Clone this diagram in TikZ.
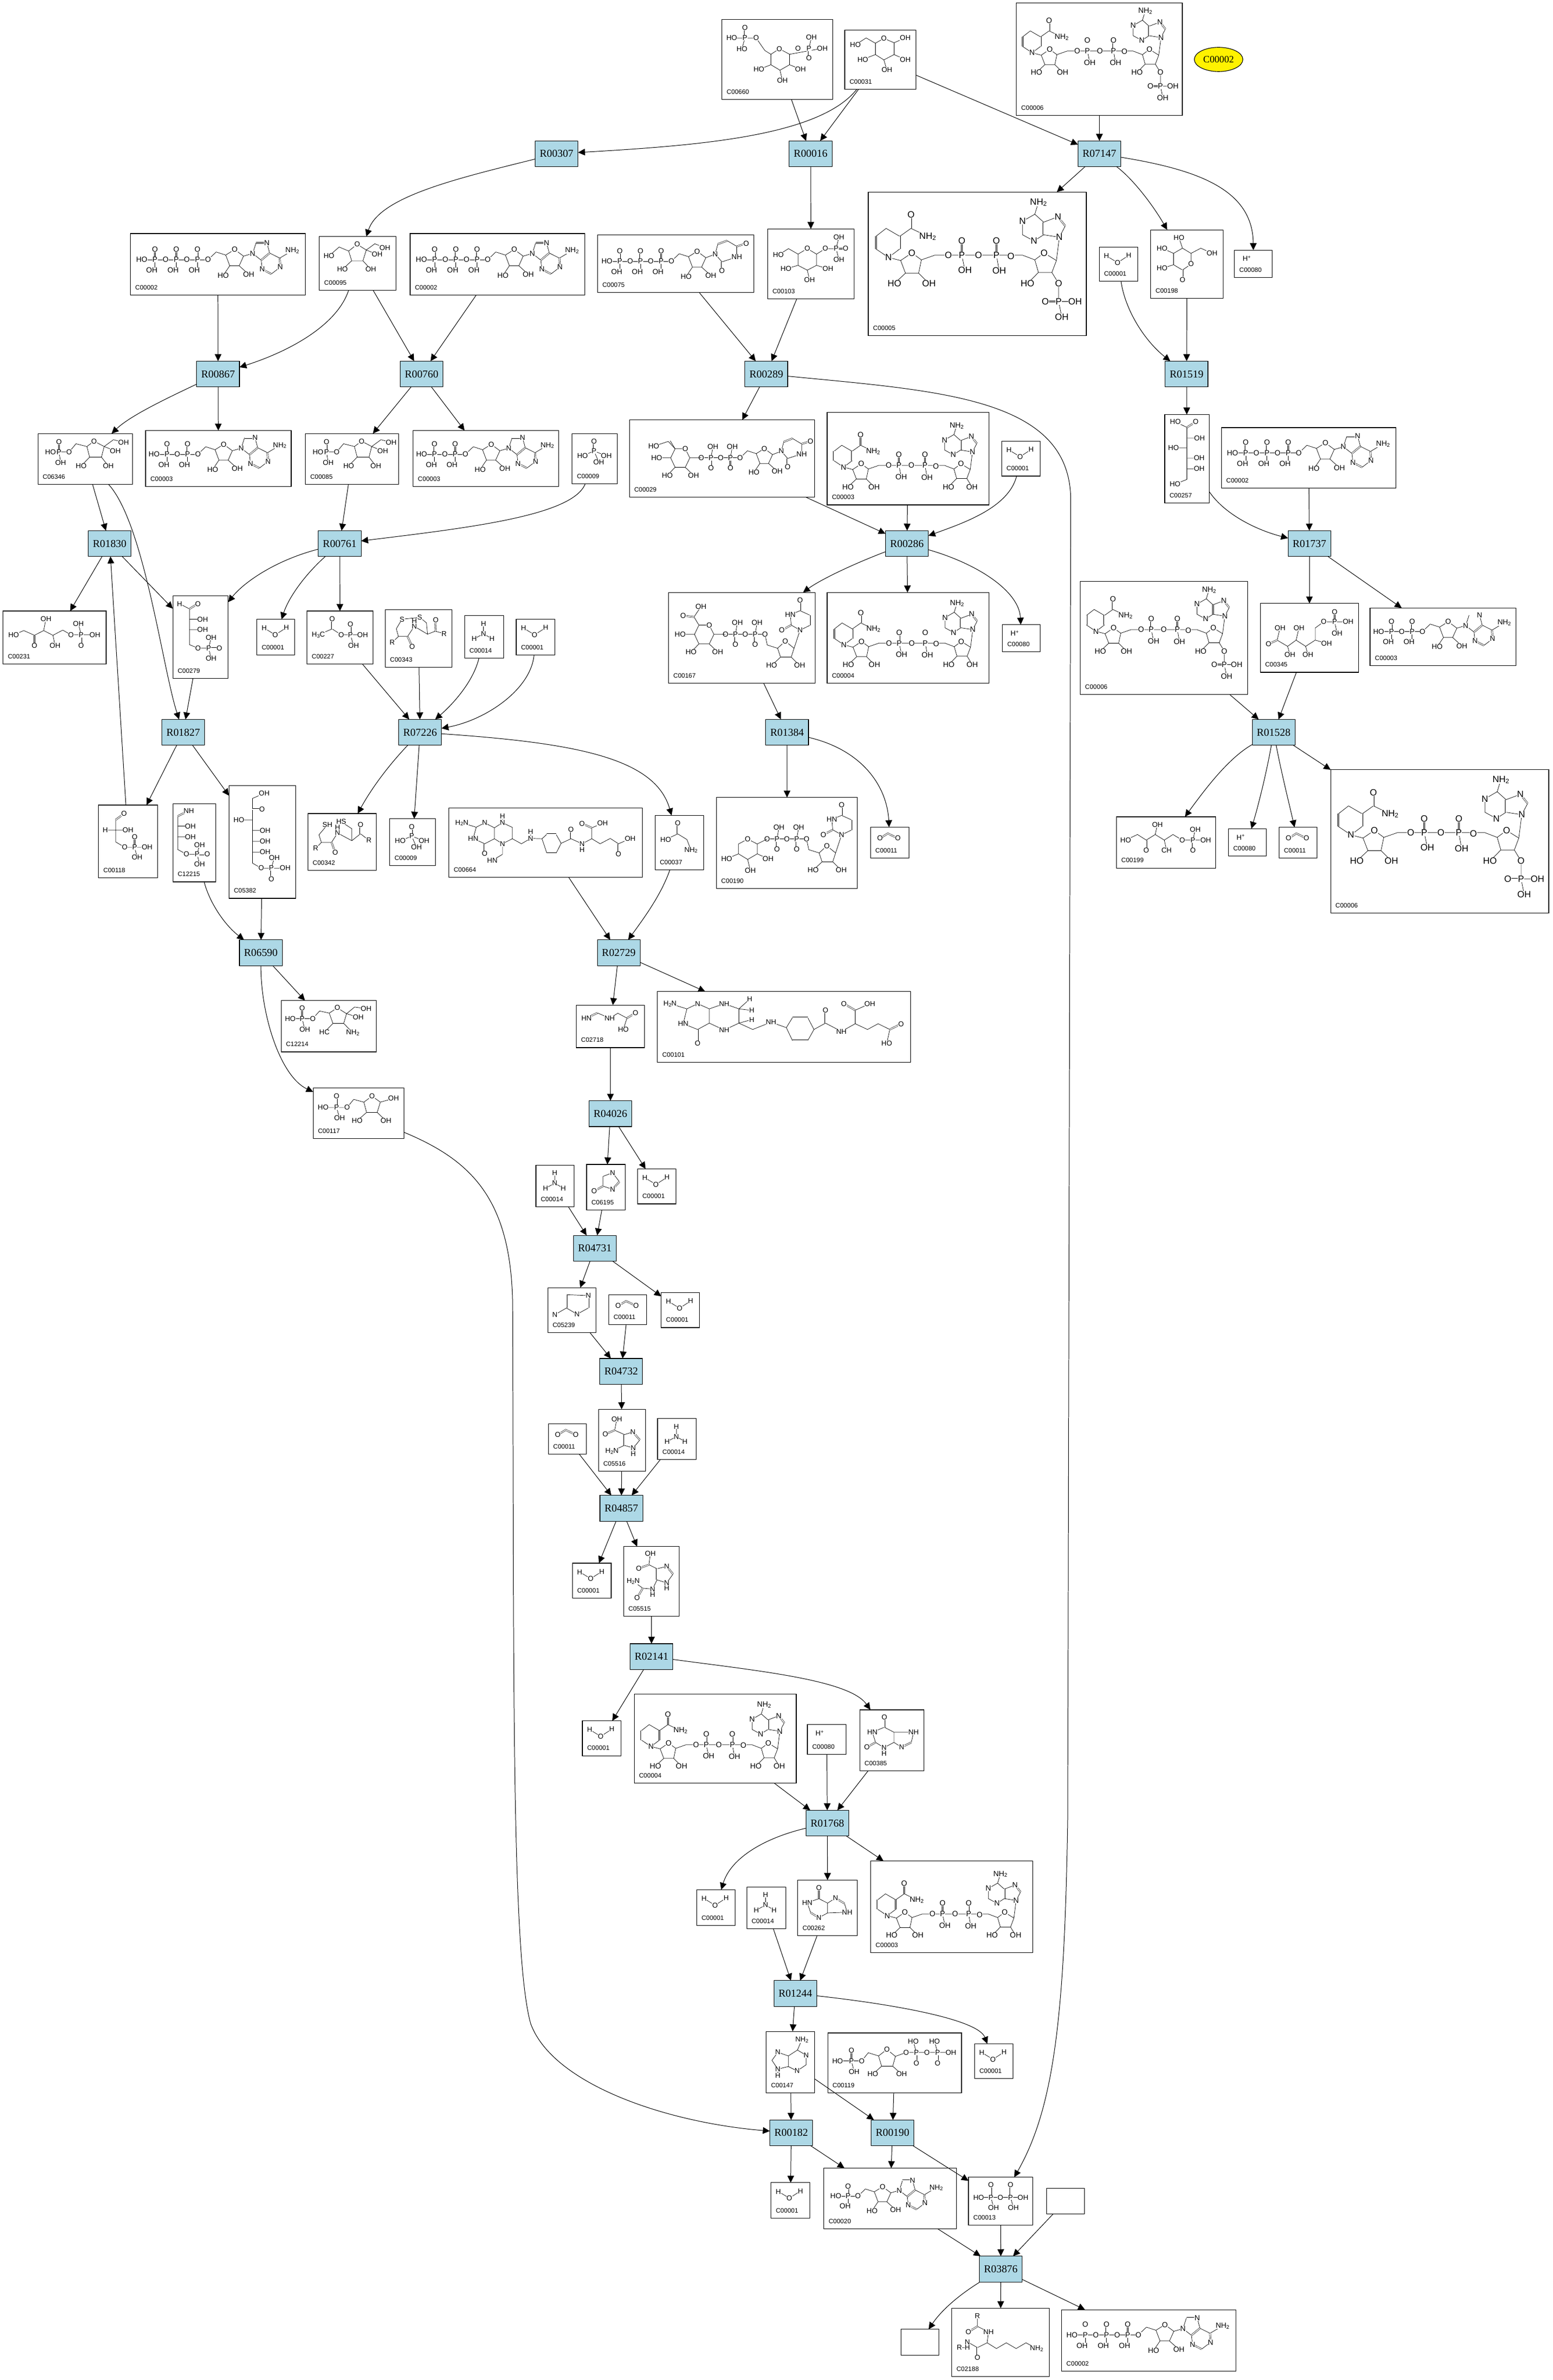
\documentclass[tikz,border=0pt]{standalone}
\usepackage{fontspec}
\usepackage{graphicx}
\setmainfont{Liberation Sans}
\newfontfamily\serif{Liberation Serif}
\usetikzlibrary{arrows.meta,shapes.geometric}
\newcount\atomc
\def\ms{4.8}
\def\A(#1,#2)#3{\global\advance\atomc by 1 \node[atom] (m\the\atomc) at (#1,#2) {#3};}
\newcommand\Bd[1]{\draw[bd] #1;}
\newcommand\Db[1]{\draw[dbl] #1;}
\newcommand\Sb[1]{\raisebox{-.25ex}{\scalebox{.7}{#1}}}
\newcommand\Sp[1]{\raisebox{.6ex}{\scalebox{.7}{#1}}}
\newcommand\Mol[5]{\begin{scope}[shift={(#1,#2)},x=#3pt,y=-#3pt]\def\ms{#4}#5\end{scope}}
\newcommand\MolD[3]{\Mol{#1}{#2}{1}{4.7}{#3}}
\newcommand\Cpd[6]{\node[cbox,minimum width={(#4-#2)*1pt},minimum height={(#5-#3)*1pt}] (#1) at ({(#2+#4)/2},{(#3+#5)/2}) {};
 \node[clabel] (#1-l) at ({#2+3},{#5-5}) {#6};}
\newcommand\Rx[3]{\node[rbox] (#1) at (#2,#3) {#1};}
\newcommand\E[2]{\draw[ed] (#1) -- (#2);}
% ---- building blocks (origin: 5' oxygen)
\newcommand\mRib{\Bd{(0,0)--(.76,-.73)--(1.66,-.44)--(2.5,-.96)--(3.34,-.34)--(2.93,.57)--(2.04,.57)--(1.66,-.44) (2.04,.57)--(1.43,1.47) (2.93,.57)--(3.82,1.38)}
 \A(0,0){O}\A(2.5,-.96){O}\A(1.43,1.47){HO}\A(3.82,1.38){OH}}
\newcommand\mAde{\Bd{(3.34,-.34)--(4.2,-.59)--(4.52,-1.59) (5.54,-1.59)--(5.8,-.63)--(5,.04)--(4.2,-.59) (5,.04)--(5.1,.9)--(5.96,1.34)--(6.8,.7)--(6.75,-.15)--(5.8,-.63) (6.75,-.15)--(7.93,-.86)}
 \Db{(4.52,-1.59)--(5.54,-1.59)}\Db{(5.8,-.63)--(5,.04)}\Db{(5.1,.9)--(5.96,1.34)}\Db{(6.8,.7)--(6.75,-.15)}\A(4.2,-.59){N}\A(5.54,-1.59){N}\A(5.1,.9){N}\A(6.8,.7){N}\A(7.93,-.86){NH\Sb{2}}}
\newcommand\mChain[1]{\Bd{(0,0)--({-2*#1},0)}
 \foreach \i in {1,...,#1}{\pgfmathsetmacro\xp{-(2*\i-1)}\pgfmathsetmacro\xo{-2*\i}
  \Db{(\xp,0)--(\xp,-1)}\Bd{(\xp,0)--(\xp,1)}\A(\xp,0){P}\A(\xp,-1){O}\A(\xp-.3,1){OH}
  \ifnum\i<#1 \A(\xo,0){O}\else\A(\xo-.25,0){HO}\fi}}
\newcommand\mATPn[1]{\mChain{#1}\mRib\mAde}
\newcommand\mUra{\Bd{(3.34,-.34)--(4.25,-.69)--(4.9,.06)--(6.34,-.41)--(6.34,-1.44)--(5.4,-2) (4.5,-1.66)--(4.25,-.69)}\Db{(4.9,.06)--(4.9,.91)}\Db{(6.34,-1.44)--(7.25,-1.72)}\Db{(5.4,-2)--(4.5,-1.66)}
 \A(4.25,-.69){N}\A(6.34,-.41){NH}\A(4.9,.91){O}\A(7.25,-1.72){O}}
\newcommand\mUrd{\Bd{(0,0)--(.23,1.08)--(1.28,1.41)--(2.06,.69)--(2.95,1.41)--(2.66,2.31)--(1.58,2.31)--(1.28,1.41) (1.58,2.31)--(.67,3.16) (2.66,2.31)--(3.52,3.16) (2.95,1.41)--(3.56,-.43)--(2.66,-.94)--(2.57,-2)--(3.56,-2.4)--(4.53,-1.96) (4.53,-.9)--(3.56,-.43)}
 \Db{(2.66,-.94)--(1.71,-.43)}\Db{(3.56,-2.4)--(3.56,-3.45)}\Db{(4.53,-1.96)--(4.53,-.9)}
 \A(0,0){O}\A(2.06,.69){O}\A(.67,3.16){HO}\A(3.52,3.16){OH}\A(3.56,-.43){N}\A(1.71,-.43){O}\A(2.57,-2){HN}\A(3.56,-3.45){O}}
\newcommand\mUDPp{\Bd{(0,0)--(-4,0)}\foreach \xp in {-1,-3}{\Bd{(\xp,0)--(\xp+.2,-1.17)}\Db{(\xp,0)--(\xp,1.05)}\A(\xp,0){P}\A(\xp+.2,-1.17){OH}\A(\xp,1.05){O}}\A(-2,0){O}\A(-4,0){O}}
\newcommand\mHexA{\Bd{(-4,0)--(-5.18,0)--(-5.65,-.94)--(-6.7,-.94)--(-7.15,0)--(-6.7,.97)--(-5.65,.97)--(-5.18,0) (-7.15,0)--(-8.6,0) (-6.7,.97)--(-7.5,1.8) (-5.65,.97)--(-4.8,1.8) (-6.7,-.94)--(-7.2,-1.77)}\A(-5.65,-.94){O}\A(-8.6,0){HO}\A(-7.5,1.8){HO}\A(-4.8,1.8){OH}}
\newcommand\mNADc{\Bd{(0,0)--(-1.56,0)--(-2.34,.27)--(-2.89,-.13)--(-3.54,.31)--(-3.26,1.04)--(-2.5,1.04)--(-2.34,.27) (-3.26,1.04)--(-3.9,1.64) (-2.5,1.04)--(-1.9,1.64) (-3.54,.31)--(-4.24,.13)--(-4.97,-.36)--(-4.97,-1.09)--(-4.38,-1.55)--(-3.59,-1.09)--(-3.59,-.36)--(-4.24,.13) (-3.59,-1.09)--(-2.94,-1.55)--(-1.98,-1.09) (0,0)--(.18,.87) (2,0)--(2.16,.91) (0,0)--(3.51,0)--(4.22,.27)--(4.76,-.13)--(5.47,.31)--(5.21,1)--(4.43,1)--(4.22,.27) (4.43,1)--(3.8,1.64) (5.47,.31)--(5.64,-1.04)--(5.98,-1.69)--(5.56,-2.22)--(4.73,-1.91)--(4.73,-1.18)--(5.64,-1.04) (4.73,-1.18)--(4.17,-.82)--(3.51,-1.18)--(3.51,-1.96)--(4.22,-2.37)--(4.73,-1.91) (4.22,-2.37)--(4.43,-3.06)}
 \Db{(0,0)--(0,-.82)}\Db{(2,0)--(2,-.82)}\Db{(-2.94,-1.55)--(-2.94,-2.33)}\Db{(-4.97,-.36)--(-4.97,-1.09)}\Db{(-3.59,-1.09)--(-3.59,-.36)}\Db{(4.73,-1.91)--(4.73,-1.18)}\Db{(5.98,-1.69)--(5.56,-2.22)}
 \A(-.78,0){O}\A(.96,0){O}\A(2.84,.05){O}\A(0,0){P}\A(2,0){P}\A(0,-.82){O}\A(2,-.82){O}\A(.18,.87){OH}\A(2.16,.91){OH}
 \A(-2.89,-.13){O}\A(-3.9,1.64){HO}\A(-1.9,1.64){OH}\A(-4.24,.13){N}\A(-2.94,-2.33){O}\A(-1.98,-1.09){NH\Sb{2}}
 \A(4.76,-.13){O}\A(3.8,1.64){HO}\A(5.64,-1.04){N}\A(5.56,-2.22){N}\A(4.17,-.82){N}\A(3.51,-1.96){N}\A(4.43,-3.06){NH\Sb{2}}}
\newcommand\mNAD{\mNADc\Bd{(5.21,1)--(5.6,1.64)}\A(5.6,1.64){OH}}
\newcommand\mNADP{\mNADc\Bd{(5.21,1)--(5.6,1.64)--(5.6,2.68)--(6.55,2.68) (5.6,2.68)--(5.78,3.57)}\Db{(5.6,2.68)--(4.83,2.68)}\A(5.6,1.64){O}\A(5.6,2.68){P}\A(4.83,2.68){O}\A(6.55,2.68){OH}\A(5.78,3.57){OH}}
\newcommand\mWater[2]{\Mol{#1}{#2}{1}{4.7}{\Bd{(4.8,5.8)--(12.1,10.2)--(19.4,5.5)}\A(4.8,5.8){H}\A(12.1,10.2){O}\A(19.4,5.5){H}}}
\newcommand\mAmm[2]{\Mol{#1}{#2}{1}{4.7}{\Bd{(12.4,5.3)--(12.4,12)--(6.3,15.3) (12.4,12)--(18,15.3)}\A(12.4,5.3){H}\A(12.4,12){N}\A(6.3,15.3){H}\A(18,15.3){H}}}
\newcommand\mCO[2]{\Mol{#1}{#2}{1}{4.7}{\Db{(6.2,7.3)--(11.4,4.1)--(18,7.3)}\A(6.2,7.3){O}\A(18,7.3){O}}}
\newcommand\mHp[2]{\Mol{#1}{#2}{1}{4.7}{\A(8,5.6){H\Sp{+}}}}
\newcommand\mPi[2]{\Mol{#1}{#2}{1}{4.7}{\Bd{(6.9,14.6)--(14.5,11.5)--(22.6,14.6) (14.5,11.5)--(17.6,18.8)}\Db{(14.5,11.5)--(14.5,5.2)}\A(14.5,11.5){P}\A(14.5,5.2){O}\A(6.9,14.6){HO}\A(22.6,14.6){OH}\A(17.6,18.8){OH}}}
\newcommand\mFP[2]{\MolD{#1}{#2}{\Bd{(8.3,12.1)--(20.6,12.1)--(25.1,6.7)--(32.3,8.5)--(37,5)--(43.7,8.5)--(41.9,15.5)--(34.1,15.5)--(32.3,8.5) (13.9,12.1)--(15,19.1) (34.1,15.5)--(28.5,21.3) (41.9,15.5)--(46.4,21.3) (43.7,8.5)--(49.8,4)--(56.5,5.7) (43.7,8.5)--(51,11.4)}\Db{(13.9,12.1)--(13.9,5.4)}\A(8.3,12.1){HO}\A(13.9,12.1){P}\A(13.9,5.4){O}\A(15,19.1){OH}\A(20.6,12.1){O}\A(37,5){O}\A(28.5,21.3){HO}\A(46.4,21.3){OH}\A(56.5,5.7){OH}\A(51,11.4){OH}}}
\tikzset{
 atom/.style={fill=white,inner sep=.12pt,outer sep=0pt,font=\fontsize{\ms}{\ms}\selectfont,text=black},
 bd/.style={line width=.25pt,line join=round},
 dbl/.style={line width=.22pt,double,double distance=.6pt},
 cbox/.style={draw=black,fill=white,line width=.4pt,inner sep=0pt,outer sep=0pt},
 clabel/.style={anchor=west,inner sep=0pt,font=\fontsize{4.2}{4.2}\selectfont,text=black},
 rbox/.style={draw=black,fill=rxblue,line width=.4pt,minimum width=28.2pt,minimum height=17pt,inner sep=0pt,outer sep=0pt,font=\serif\fontsize{7}{7}\selectfont,text=black},
 ed/.style={line width=.35pt,-{Triangle[length=4.6pt,width=4.4pt]}}
}
\definecolor{rxblue}{HTML}{ADD8E6}
\begin{document}
\begin{tikzpicture}[x=1pt,y=-1pt]
\useasboundingbox (0,0) rectangle (1024,1569.76);
\fill[white] (0,0) rectangle (1024,1569.76);
% reactions
\Rx{R00016}{534.5}{101.4}\Rx{R07147}{724.9}{101.4}\Rx{R00307}{367}{101.4}
\Rx{R00867}{143.8}{246.7}\Rx{R00760}{278}{246.7}\Rx{R00289}{505.3}{246.7}\Rx{R01519}{782.4}{246.7}
\Rx{R01830}{72.3}{358.5}\Rx{R00761}{224}{358.5}\Rx{R00286}{598}{358.5}\Rx{R01737}{863.4}{358.5}
\Rx{R01827}{120.8}{483}\Rx{R07226}{277}{483}\Rx{R01384}{519}{483}\Rx{R01528}{839.8}{483}
\Rx{R06590}{172}{628.4}\Rx{R02729}{408}{628.4}\Rx{R04026}{402.5}{734.5}\Rx{R04731}{392.2}{823.3}
\Rx{R04732}{409.6}{904.5}\Rx{R04857}{409.7}{994.8}\Rx{R02141}{429.6}{1092.6}\Rx{R01768}{545.5}{1202.5}
\Rx{R01244}{524.4}{1314.8}\Rx{R00182}{521.7}{1406.7}\Rx{R00190}{588.5}{1406.7}\Rx{R03876}{659.9}{1496.6}
\node[ellipse,draw=black,fill=yellow,line width=.4pt,minimum width=32pt,minimum height=16pt,inner sep=0pt,font=\serif\fontsize{6.4}{6.4}\selectfont] (C00002key) at (803.5,39.2) {C00002};
% compounds
\Cpd{c00660}{476}{12.9}{549}{65.5}{C00660}
\MolD{476}{12.9}{\Bd{(6.5,12.2)--(22.6,12.2)--(28.3,20.4)--(32.3,22.9)--(37.9,19.3)--(44.6,22.9)--(44.6,29.8)--(38.3,33.4)--(32.3,29.8)--(32.3,22.9) (15.2,12.2)--(13.2,19.3) (32.3,29.8)--(24.4,32.9) (44.6,29.8)--(51.8,32.7) (38.3,33.4)--(39.9,40.2) (44.6,22.9)--(66.2,19) (57.4,19)--(59,11.8)}\Db{(15.2,12.2)--(15.2,5.2)}\Db{(57.4,19)--(57.4,25.3)}\A(6.5,12.2){HO}\A(15.2,12.2){P}\A(15.2,5.2){O}\A(13.2,19.3){HO}\A(22.6,12.2){O}\A(37.9,19.3){O}\A(24.4,32.9){HO}\A(51.8,32.7){OH}\A(39.9,40.2){OH}\A(50.2,19){O}\A(57.4,19){P}\A(57.4,25.3){O}\A(59,11.8){OH}\A(66.2,19){OH}}
\Cpd{c00031}{557}{20}{604}{59}{C00031}
\MolD{557}{20}{\Bd{(25.8,5.3)--(32.5,8.2)--(32.5,16)--(25.8,19.5)--(20.2,16)--(20.2,8.5)--(25.8,5.3) (20.2,8.5)--(14.1,5)--(7,9.6) (32.5,8.2)--(39.9,5) (20.2,16)--(11.9,19.2) (32.5,16)--(39.9,19.2) (25.8,19.5)--(27.8,26.2)}\A(25.8,5.3){O}\A(7,9.6){HO}\A(39.9,5){OH}\A(11.9,19.2){HO}\A(39.9,19.2){OH}\A(27.8,26.2){OH}}
\Cpd{c00006a}{670.2}{1.9}{779.6}{76.1}{C00006}
\Mol{717}{33.7}{8.6}{5}{\mNADP}
\Cpd{c00005}{572.5}{126.7}{716.3}{221.3}{C00005}\Mol{634.2}{168.3}{11.4}{6}{\mNADP}
\Cpd{c00103}{506.2}{151}{563.2}{197}{C00103}
\MolD{506.2}{151}{\Bd{(26.1,13)--(32.2,16.6)--(32.2,24)--(26.1,27.2)--(20,24)--(20,16.6)--(26.1,13) (20,16.6)--(13.7,13)--(7,17.2) (20,24)--(12,26.3) (32.2,24)--(39.7,26.3) (26.1,27.2)--(27.6,33.4) (32.2,16.6)--(38,13)--(45.1,13) (45.1,13)--(46.9,5.5) (45.1,13)--(46.9,20.1)}\Db{(45.1,13)--(51.4,13)}\A(26.1,13){O}\A(7,17.2){HO}\A(12,26.3){HO}\A(39.7,26.3){OH}\A(27.6,33.4){OH}\A(38,13){O}\A(45.1,13){P}\A(51.4,13){O}\A(46.9,5.5){OH}\A(46.9,20.1){OH}}
\Cpd{c00198}{758.8}{151.6}{806.5}{196.7}{C00198}
\MolD{758.8}{151.6}{\Bd{(26.5,22.6)--(26.5,15.5)--(20.9,12.1)--(15,15.5)--(15,23)--(20.9,26.5)--(26.5,22.6) (20.9,12.1)--(18.6,5.3) (15,15.5)--(7.4,12.1) (15,23)--(7.4,25.4) (26.5,15.5)--(33,12.1)--(40.4,15.5)}\Db{(20.9,26.5)--(20.9,32.8)}\A(26.5,22.6){O}\A(18.6,5.3){HO}\A(7.4,12.1){HO}\A(7.4,25.4){HO}\A(20.9,32.8){O}\A(40.4,15.5){OH}}
\Cpd{c00001a}{724.8}{163}{750.2}{185.5}{C00001}\mWater{724.8}{163}
\Cpd{c00080a}{814}{165}{839}{183}{C00080}\mHp{814}{165}
\Cpd{c00095}{210.6}{156}{261}{191.5}{C00095}
\MolD{210.6}{156}{\Bd{(24.9,5.1)--(30.9,8.9)--(28.7,16)--(21.3,16)--(19.3,9.6)--(24.9,5.1) (19.3,9.6)--(13,6.9)--(6.3,12.9) (30.9,8.9)--(36.5,4.8)--(43.2,7.3) (30.9,8.9)--(38.1,11.8) (21.3,16)--(15.2,21.7) (28.7,16)--(33.9,21.7)}\A(24.9,5.1){O}\A(6.3,12.9){HO}\A(43.2,7.3){OH}\A(38.1,11.8){OH}\A(15.2,21.7){HO}\A(33.9,21.7){OH}}
\Cpd{c00002a}{86}{154}{201.4}{194.5}{C00002}\Mol{137.2}{171.3}{7}{4.9}{\mATPn{3}}
\Cpd{c00002b}{270.4}{154}{385.7}{194.5}{C00002}\Mol{321.6}{171.3}{7}{4.9}{\mATPn{3}}
\Cpd{c00075}{394}{155}{497}{193}{C00075}\Mol{442.7}{172.3}{6.8}{4.8}{\mChain{3}\mRib\mUra}
\Cpd{c06346}{25}{286}{87.4}{319.4}{C06346}\mFP{25}{286}
\Cpd{c00003a}{96}{284}{192}{321}{C00003}\Mol{130.5}{299.6}{6.8}{4.8}{\mATPn{2}}
\Cpd{c00085}{201.4}{286}{263}{319.4}{C00085}\mFP{201.4}{286}
\Cpd{c00003b}{272.4}{284}{368.4}{321}{C00003}\Mol{306.9}{299.6}{6.8}{4.8}{\mATPn{2}}
\Cpd{c00009a}{377.2}{286}{407}{319}{C00009}\mPi{377.2}{286}
\Cpd{c00029}{415}{277}{537}{328}{C00029}
\Mol{488}{302}{6.4}{4.8}{\mUDPp\mRib\mUra\mHexA\Bd{(-6.7,-.94)--(-7.4,-1.7)--(-8.6,-1.3)}\A(-8.9,-1.2){HO}}
\Cpd{c00003c}{545.4}{272}{652}{333}{C00003}\Mol{592.7}{307}{8.6}{5}{\mNAD}
\Cpd{c00001b}{660.5}{291}{686}{314}{C00001}\mWater{660.5}{291}
\Cpd{c00257}{768}{273.4}{797.3}{331.8}{C00257}
\MolD{768}{273.4}{\Bd{(7,4.8)--(14.6,8.5)--(14.6,42.8)--(6.8,45.9) (14.6,15.6)--(22.9,15.6) (14.6,22)--(5.8,22) (14.6,28.7)--(22.7,28.7) (14.6,35.8)--(22.7,35.8)}\Db{(14.6,8.5)--(20.4,4.8)}\A(7,4.8){HO}\A(20.4,4.8){O}\A(22.9,15.6){OH}\A(5.8,22){HO}\A(22.7,28.7){OH}\A(22.7,35.8){OH}\A(6.8,45.9){HO}}
\Cpd{c00002c}{805.4}{282}{920.4}{322}{C00002}\Mol{856.4}{298.8}{7}{4.9}{\mATPn{3}}
\Cpd{c00279}{114}{393}{150.4}{447.4}{C00279}
\MolD{114}{393}{\Bd{(4.4,5.2)--(10.9,8.6)--(10.9,32.2)--(16.6,34.5)--(25,34.5) (10.9,15.4)--(19.6,15.4) (10.9,22.3)--(19.6,22.3) (23.6,34.5)--(25.2,27.6) (23.6,34.5)--(25.2,41.3)}\Db{(10.9,8.6)--(16.5,5.2)}\Db{(23.6,34.5)--(30.6,34.5)}\A(4.4,5.2){H}\A(16.5,5.2){O}\A(19.6,15.4){OH}\A(19.6,22.3){OH}\A(16.6,34.5){O}\A(23.6,34.5){P}\A(30.6,34.5){O}\A(25.2,27.6){OH}\A(25.2,41.3){OH}}
\Cpd{c00231}{2}{403}{70}{438}{C00231}
\MolD{2}{403}{\Bd{(7,15.7)--(13.7,12.9)--(20.7,16)--(26.8,12.9)--(32.9,16)--(39.4,12.6)--(44.8,15.7)--(60.6,15.7) (26.8,12.9)--(28.3,5.2) (32.9,16)--(34.3,22.8) (51.5,15.7)--(49.7,8.3)}\Db{(20.7,16)--(20.7,22.8)}\Db{(51.5,15.7)--(51.5,22.8)}\A(7,15.7){HO}\A(20.7,22.8){O}\A(28.3,5.2){OH}\A(34.3,22.8){OH}\A(44.8,15.7){O}\A(51.5,15.7){P}\A(49.7,8.3){OH}\A(60.6,15.7){OH}\A(51.5,22.8){O}}
\Cpd{c00001c}{169.4}{408.5}{194.4}{432}{C00001}\mWater{169.4}{408.5}
\Cpd{c00227}{202.4}{403}{246}{438}{C00227}
\MolD{202.4}{403}{\Bd{(7.5,15.7)--(16.6,11.8)--(22.6,15.7)--(36.7,15.7) (28.7,15.7)--(30.7,22.8)}\Db{(16.6,11.8)--(16.6,5.2)}\Db{(28.7,15.7)--(28.7,8.6)}\A(7.5,15.7){H\Sb{3}C}\A(16.6,5.2){O}\A(22.6,15.7){O}\A(28.7,15.7){P}\A(28.7,8.6){O}\A(36.7,15.7){OH}\A(30.7,22.8){OH}}
\Cpd{c00343}{254}{402}{298}{440}{C00343}
\MolD{254}{402}{\Bd{(11.1,6.4)--(22.8,5.2)--(27.2,8.8)--(27.9,16.3)--(19.2,11.1)--(14.7,17.8)--(8.7,17.8)--(7.3,12.7)--(11.1,6.4) (8.7,17.8)--(4.6,21.7) (27.9,16.3)--(33,14.3)--(38.8,15.9)}\Db{(14.7,17.8)--(17.8,24.5)}\Db{(33,14.3)--(33.3,6.9)}\A(11.1,6.4){S}\A(22.8,5.2){S}\A(4.6,21.7){R}\A(17.8,24.5){O}\A(19.2,11.1){N}\A(19.2,7.6){H}\A(33.3,6.9){O}\A(38.8,15.9){R}}
\Cpd{c00014a}{306.4}{406}{332}{434}{C00014}\mAmm{306.4}{406}
\Cpd{c00001d}{340.4}{408.5}{366}{432}{C00001}\mWater{340.4}{408.5}
\Cpd{c00167}{440.8}{390.8}{537.6}{450.5}{C00167}
\Mol{504.4}{418.4}{6.5}{4.8}{\mUDPp\mUrd\mHexA\Bd{(-7.2,-1.77)--(-6.5,-2.8)}\Db{(-7.2,-1.77)--(-8.3,-1.9)}\A(-8.3,-1.9){O}\A(-6.5,-2.8){OH}}
\Cpd{c00004a}{545.4}{390.8}{652}{450.5}{C00004}\Mol{592.9}{424.2}{8.6}{5}{\mNAD}
\Cpd{c00080b}{661}{412}{686}{430}{C00080}\mHp{661}{412}
\Cpd{c00006b}{712.3}{383.5}{822.6}{458}{C00006}\Mol{759.1}{415.3}{8.6}{5}{\mNADP}
\Cpd{c00345}{831}{398}{895.8}{443.4}{C00345}
\MolD{831}{398}{\Bd{(11.1,24.2)--(18,28.3)--(23.6,24.2)--(29.9,28.3)--(36.2,24.2)--(36.2,16.2)--(41.8,12.1)--(57.9,12.1) (11.1,24.2)--(13,16.2) (18,28.3)--(19.5,33.7) (23.6,24.2)--(25.5,16.2) (29.9,28.3)--(31.4,33.7) (36.2,24.2)--(43.7,26.3) (49,12.1)--(50.6,19.6)}\Db{(11.1,24.2)--(5.4,26.7)}\Db{(49,12.1)--(49,5.5)}\A(5.4,26.7){O}\A(13,16.2){OH}\A(19.5,33.7){OH}\A(25.5,16.2){OH}\A(31.4,33.7){OH}\A(43.7,26.3){OH}\A(41.8,12.1){O}\A(49,12.1){P}\A(49,5.5){O}\A(57.9,12.1){OH}\A(50.6,19.6){OH}}
\Cpd{c00003d}{903.4}{401}{999.4}{439}{C00003}\Mol{937.9}{416.6}{6.8}{4.8}{\mATPn{2}}
\Cpd{c00118}{65}{531}{104}{579}{C00118}
\MolD{65}{531}{\Bd{(11.3,9.7)--(11.3,24.3)--(17.2,27.8)--(32,27.8) (4.4,16.5)--(19.4,16.5) (23.8,27.8)--(25.4,34.5)}\Db{(11.3,9.7)--(16.8,5.6)}\Db{(23.8,27.8)--(23.8,21.2)}\A(16.8,5.6){O}\A(4.4,16.5){H}\A(19.4,16.5){OH}\A(17.2,27.8){O}\A(23.8,27.8){P}\A(23.8,21.2){O}\A(32,27.8){OH}\A(25.4,34.5){OH}}
\Cpd{c12215}{114}{530}{142.2}{581.6}{C12215}
\MolD{114}{530}{\Bd{(3.2,8.3)--(3.2,30.3)--(8.9,33.4)--(16,33.4) (3.2,14.9)--(11.5,14.9) (3.2,22)--(11.5,22) (16,33.4)--(17.6,27.2) (16,33.4)--(17.6,40)}\Db{(3.2,8.3)--(10.5,4.7)}\Db{(16,33.4)--(22.6,33.4)}\A(10.5,4.7){NH}\A(11.5,14.9){OH}\A(11.5,22){OH}\A(8.9,33.4){O}\A(16,33.4){P}\A(22.6,33.4){O}\A(17.6,27.2){OH}\A(17.6,40){OH}}
\Cpd{c05382}{151}{518}{195}{592.5}{C05382}
\MolD{151}{518}{\Bd{(23.2,5.2)--(15.5,8.6)--(15.5,51.3)--(21.2,54.6)--(37,54.6) (15.5,22.8)--(6.5,22.8) (15.5,29.8)--(23.8,29.8) (15.5,36.9)--(23.8,36.9) (15.5,44)--(23.8,44) (27.9,54.6)--(29.9,47.6)}\Db{(15.5,15.7)--(21.8,15.7)}\Db{(27.9,54.6)--(27.9,61.7)}\A(23.2,5.2){OH}\A(21.8,15.7){O}\A(6.5,22.8){HO}\A(23.8,29.8){OH}\A(23.8,36.9){OH}\A(23.8,44){OH}\A(21.2,54.6){O}\A(27.9,54.6){P}\A(37,54.6){OH}\A(29.9,47.6){OH}\A(27.9,61.7){O}}
\Cpd{c00342}{203}{536.6}{248}{574}{C00342}
\MolD{203}{536.6}{\Bd{(12.9,7.4)--(7.3,14)--(8.9,19)--(15.6,19)--(19.6,12.8)--(29,17.9)--(29,10)--(22,5.4) (8.9,19)--(5.2,23) (29,17.9)--(34.7,13.3)--(40.2,17.6)}\Db{(15.6,19)--(18,25.5)}\Db{(34.7,13.3)--(34.7,7.4)}\A(12.9,7.4){SH}\A(5.2,23){R}\A(18,25.5){O}\A(19.6,12.8){N}\A(19.6,9){H}\A(22,5.4){HS}\A(34.7,7.4){O}\A(40.2,17.6){R}}
\Cpd{c00009b}{257}{540}{287}{571}{C00009}\mPi{257}{540}
\Cpd{c00644}{296}{533}{423.6}{578.6}{C00664}
\MolD{296}{533}{\Bd{(8.5,9.7)--(18,12.6)--(23.6,9.7)--(30,13)--(35.3,9.6)--(41.8,12.7)--(41.8,20.2)--(35.3,23.5)--(30,20.2)--(30,13) (30,20.2)--(23.6,23.5)--(16,20)--(18,12.6) (35.3,9.6)--(35.3,5.3) (35.3,23.5)--(35.3,30.5)--(28.6,34.5) (41.8,20.2)--(47.8,23.5)--(53.9,20)--(61.4,20.2)--(64.6,17.2)--(70.6,17.2)--(74,23.2)--(70.6,29.9)--(64.6,29.9)--(61.4,20.2) (74,23.2)--(80.5,20.2)--(87.8,23.5)--(94.2,20.2)--(94.2,13)--(101.3,10) (94.2,20.2)--(99.7,23.5)--(106.4,20)--(111.8,23.5)--(119.5,20.2) (53.9,20)--(53.9,15.6)}\Db{(23.6,23.5)--(23.6,29.9)}\Db{(80.5,20.2)--(80.5,14.2)}\Db{(94.2,13)--(87.8,10.2)}\Db{(111.8,23.5)--(111.8,30.3)}\Db{(64.6,17.2)--(70.6,17.2)}\Db{(64.6,29.9)--(70.6,29.9)}\A(8.5,9.7){H\Sb{2}N}\A(23.6,9.7){N}\A(35.3,9.6){N}\A(35.3,5.3){H}\A(35.3,23.5){N}\A(23.6,29.9){O}\A(16,20){HN}\A(28.6,34.5){HN}\A(53.9,20){N}\A(53.9,15.6){H}\A(80.5,14.2){O}\A(87.8,23.5){N}\A(87.8,27.5){H}\A(87.8,10.2){O}\A(101.3,10){OH}\A(111.8,30.3){O}\A(119.5,20.2){OH}}
\Cpd{c00037}{431.9}{537.8}{464}{573.8}{C00037}
\MolD{431.9}{537.8}{\Bd{(7,15.9)--(15,12.2)--(21,15.9)--(23.7,22.9)}\Db{(15,12.2)--(15,5.2)}\A(15,5.2){O}\A(7,15.9){HO}\A(23.7,22.9){NH\Sb{2}}}
\Cpd{c00190}{472.4}{526}{565.4}{586}{C00190}
\Mol{531.8}{553.4}{6.5}{4.8}{\mUDPp\mUrd\Bd{(-4,0)--(-5,.5)--(-5.97,0)--(-6.9,.5)--(-6.9,1.5)--(-5.97,2.07)--(-5,1.5)--(-5,.5) (-6.9,1.5)--(-8.1,2) (-5,1.5)--(-3.9,2) (-5.97,2.07)--(-5.7,3.2)}\A(-5.97,0){O}\A(-8.1,2){HO}\A(-3.9,2){OH}\A(-5.7,3.2){OH}}
\Cpd{c00011a}{574}{545.6}{599.4}{566}{C00011}\mCO{574}{545.6}
\Cpd{c00199}{736.2}{538.7}{801.7}{572.5}{C00199}
\MolD{736.2}{538.7}{\Bd{(6,15.4)--(13.8,11.7)--(19.6,15.4)--(25.5,11.7)--(31.5,15.4)--(37.2,11.7)--(43.3,15.4)--(58.8,15.4) (25.5,11.7)--(27,5.1) (31.5,15.4)--(33,22.2) (50.4,15.4)--(51.9,8.3)}\Db{(19.6,15.4)--(19.6,22.2)}\Db{(50.4,15.4)--(50.4,22.2)}\A(6,15.4){HO}\A(19.6,22.2){O}\A(27,5.1){OH}\A(33,22.2){CH}\A(43.3,15.4){O}\A(50.4,15.4){P}\A(51.9,8.3){OH}\A(58.8,15.4){OH}\A(50.4,22.2){O}}
\Cpd{c00080c}{810}{546.6}{835}{564.6}{C00080}\mHp{810}{546.6}
\Cpd{c00011b}{843.4}{545.6}{868.4}{566}{C00011}\mCO{843.4}{545.6}
\Cpd{c00006c}{877.4}{507.6}{1021.2}{602.2}{C00006}\Mol{939.1}{549.2}{11.4}{6}{\mNADP}
\Cpd{c12214}{185.4}{660}{248}{693.8}{C12214}
\MolD{185.4}{660}{\Bd{(6,11.8)--(20.9,11.8)--(25.3,6.8)--(31.7,8.2)--(37,4.7)--(43.1,8.6)--(41.2,15)--(34.1,15)--(31.7,8.2) (13.8,11.8)--(15.6,18.9) (34.1,15)--(28.5,20.9) (41.2,15)--(47.2,21.1) (43.1,8.6)--(48.4,4.2)--(56,5.3) (43.1,8.6)--(50.8,10.9)}\Db{(13.8,11.8)--(13.8,5)}\A(6,11.8){HO}\A(13.8,11.8){P}\A(13.8,5){O}\A(15.6,18.9){OH}\A(20.9,11.8){O}\A(37,4.7){O}\A(28.5,20.9){HC}\A(47.2,21.1){NH\Sb{2}}\A(56,5.3){OH}\A(50.8,10.9){OH}}
\Cpd{c00117}{206.5}{717.6}{266.4}{751}{C00117}
\MolD{206.5}{717.6}{\Bd{(6.6,12.8)--(22.4,12.8)--(26.7,7.5)--(33.4,9.3)--(38.8,5.4)--(44.3,9.3)--(42.2,16.1)--(35.2,16.1)--(33.4,9.3) (15.4,12.8)--(17.4,19.9) (35.2,16.1)--(29,21.6) (42.2,16.1)--(48,21.6) (44.3,9.3)--(53,6.9)}\Db{(15.4,12.8)--(15.4,5.2)}\A(6.6,12.8){HO}\A(15.4,12.8){P}\A(15.4,5.2){O}\A(17.4,19.9){OH}\A(22.4,12.8){O}\A(38.8,5.4){O}\A(29,21.6){HO}\A(48,21.6){OH}\A(53,6.9){OH}}
\Cpd{c02718}{380}{662.9}{425}{691}{C02718}
\MolD{380}{662.9}{\Bd{(22,8.6)--(27.4,5.4)--(33.4,8.6)--(31,16.1)}\Db{(6.7,8.6)--(13.9,5.2)}\Bd{(13.9,5.2)--(22,8.6)}\Db{(33.4,8.6)--(39,5.2)}\A(6.7,8.6){HN}\A(22,8.6){NH}\A(39,5.2){O}\A(31,16.1){HO}}
\Cpd{c00101}{433.5}{654}{600.4}{700.6}{C00101}
\MolD{433.5}{654}{\Bd{(8.3,8)--(19.4,11.4)--(26.5,8)--(34.2,11.4)--(44,8)--(53.7,11.4)--(53.7,20.8)--(44,25.4)--(34.2,20.8)--(34.2,11.4) (34.2,20.8)--(26.5,25)--(17,21.2)--(19.4,11.4) (53.7,11.4)--(60.8,5) (53.7,11.4)--(62.2,12.4) (53.7,20.8)--(62.2,18.5) (53.7,20.8)--(62.8,25)--(74.9,20.2)--(85,23.8)--(89,17.2)--(99.1,17.2)--(103.2,25)--(99.1,32.3)--(89,32.3)--(85,23.8) (103.2,25)--(110.8,20.8)--(121.3,26.3)--(130.4,21.2)--(130.4,12.3)--(140,8) (130.4,21.2)--(138.5,25)--(145.5,21.2)--(153.2,25)--(151.2,34.1)}\Db{(26.5,25)--(26.5,34.1)}\Db{(110.8,20.8)--(110.8,12.3)}\Db{(130.4,12.3)--(122.9,8)}\Db{(153.2,25)--(160.6,21.4)}\Db{(89,17.2)--(99.1,17.2)}\Db{(89,32.3)--(99.1,32.3)}\A(8.3,8){H\Sb{2}N}\A(26.5,8){N}\A(44,8){NH}\A(60.8,5){H}\A(62.2,12.4){H}\A(62.2,18.5){H}\A(44,25.4){NH}\A(26.5,34.1){O}\A(17,21.2){HN}\A(74.9,20.2){NH}\A(110.8,12.3){O}\A(121.3,26.3){NH}\A(122.9,8){O}\A(140,8){OH}\A(160.6,21.4){O}\A(151.2,34.1){HO}}
\Cpd{c00014b}{353.4}{768.4}{378.6}{796}{C00014}\mAmm{353.4}{768.4}
\Cpd{c06195}{386.8}{768}{412.4}{798}{C06195}
\MolD{386.8}{768}{\Bd{(17.1,5.5)--(21.6,11.4) (17.1,16.4)--(10.8,14.3)--(10.8,7.9)--(17.1,5.5)}\Db{(21.6,11.4)--(17.1,16.4)}\Db{(10.8,14.3)--(5,17.6)}\A(17.1,5.5){N}\A(17.1,16.4){N}\A(5,17.6){O}}
\Cpd{c00001e}{420.4}{771}{445.6}{794}{C00001}\mWater{420.4}{771}
\Cpd{c05239}{361.2}{849.3}{393}{879}{C05239}
\MolD{361.2}{849.3}{\Bd{(26.7,5.2)--(12.3,4.6) (26.7,13.4)--(19.3,17.5)--(12.3,13.4)--(4.7,17.8)}\Db{(26.7,5.2)--(26.7,13.4)}\Db{(12.3,4.6)--(12.3,13.4)}\A(26.7,5.2){N}\A(19.3,17.5){N}\A(4.7,17.8){N}}
\Cpd{c00011c}{401.4}{854}{426.4}{873.6}{C00011}\mCO{401.4}{854}
\Cpd{c00001f}{436}{852.6}{461.2}{875.6}{C00001}\mWater{436}{852.6}
\Cpd{c00011d}{361.6}{939}{386.6}{959}{C00011}\mCO{361.6}{939}
\Cpd{c05516}{394.6}{929.5}{425.6}{970.5}{C05516}
\MolD{394.6}{929.5}{\Bd{(12.1,6.5)--(10.7,13.8)--(17.1,16.7)--(22.7,15) (27.3,20.2)--(23,25.5)--(17.1,23.8)--(8.9,27.6) (23,25.5)--(23,29.3)}\Db{(10.7,13.8)--(4.5,16.4)}\Db{(17.1,16.7)--(17.1,23.8)}\Db{(22.7,15)--(27.3,20.2)}\A(12.1,6.5){OH}\A(4.5,16.4){O}\A(22.7,15){N}\A(23,25.5){N}\A(23,29.3){H}\A(8.9,27.6){H\Sb{2}N}}
\Cpd{c00014c}{433.6}{935.5}{459}{962.6}{C00014}\mAmm{433.6}{935.5}
\Cpd{c00001g}{377.4}{1031}{403}{1054}{C00001}\mWater{377.4}{1031}
\Cpd{c05515}{411.2}{1020}{447.8}{1066}{C05515}
\MolD{411.2}{1020}{\Bd{(17.6,4.5)--(16.7,12)--(22,14.7)--(28.4,13.1) (32.6,18.2)--(28.4,24)--(22,22)--(19.1,28.1)--(12.6,27.5)--(6.3,22.9) (28.4,24)--(28.4,27.5) (19.1,28.1)--(19.1,31.6)}\Db{(16.7,12)--(10,14.4)}\Db{(22,14.7)--(22,22)}\Db{(28.4,13.1)--(32.6,18.2)}\Db{(12.6,27.5)--(8.9,34)}\A(17.6,4.5){OH}\A(10,14.4){O}\A(28.4,13.1){N}\A(28.4,24){N}\A(28.4,27.5){H}\A(19.1,28.1){N}\A(19.1,31.6){H}\A(6.3,22.9){H\Sb{2}N}\A(8.9,34){O}}
\Cpd{c00001h}{384}{1135}{409.4}{1158}{C00001}\mWater{384}{1135}
\Cpd{c00004b}{418.2}{1117.4}{525}{1176}{C00004}\Mol{465.7}{1150.8}{8.6}{5}{\mNAD}
\Cpd{c00080d}{532.4}{1137.4}{558}{1157}{C00080}\mHp{532.4}{1137.4}
\Cpd{c00385}{566.9}{1127.7}{609.3}{1167.9}{C00385}
\MolD{566.9}{1127.7}{\Bd{(16.2,11.5)--(8.3,14.8)--(10.4,21.5)--(16,25)--(22.5,21.5)--(22.5,14.8)--(16.2,11.5) (22.5,14.8)--(35.5,14.8)--(34,21.5) (27.6,24.7)--(22.5,21.5) (16,25)--(16,28.8)}\Db{(16.2,11.5)--(16.2,5)}\Db{(10.4,21.5)--(4.7,24.7)}\Db{(34,21.5)--(27.6,24.7)}\A(16.2,5){O}\A(8.3,14.8){HN}\A(4.7,24.7){O}\A(16,25){N}\A(16,28.8){H}\A(35.5,14.8){NH}\A(27.6,24.7){N}}
\Cpd{c00001i}{459.4}{1246.4}{484.6}{1270}{C00001}\mWater{459.4}{1246.4}
\Cpd{c00014d}{492.4}{1244.5}{518}{1272}{C00014}\mAmm{492.4}{1244.5}
\Cpd{c00262}{526}{1240}{565.4}{1276.6}{C00262}
\MolD{526}{1240}{\Bd{(14,12.3)--(6.3,14.9)--(8.5,21.5) (13.9,24.8)--(19.7,21.7)--(19.7,15.2)--(14,12.3) (19.7,15.2)--(24.9,11.9) (30.8,15.4)--(32.6,21.2)--(19.7,21.7)}\Db{(14,12.3)--(14,5)}\Db{(8.5,21.5)--(13.9,24.8)}\Db{(24.9,11.9)--(30.8,15.4)}\A(14,5){O}\A(6.3,14.9){HN}\A(13.9,24.8){N}\A(24.9,11.9){N}\A(32.6,21.2){NH}}
\Cpd{c00003e}{574.2}{1227.4}{681}{1288}{C00003}\Mol{621.5}{1262.4}{8.6}{5}{\mNAD}
\Cpd{c00147}{505.2}{1339.8}{537.2}{1380.4}{C00147}
\MolD{505.2}{1339.8}{\Bd{(20.6,12.3)--(26.4,15.8)--(26.4,22)--(20.4,26.1)--(14.6,23.2)--(14.6,16.2)--(20.6,12.3) (20.6,12.3)--(23.5,5.6) (14.6,16.2)--(7.7,13.8)--(3.8,19.1)--(7.7,24.9)--(14.6,23.2) (7.7,24.9)--(7.7,29)}\A(23.5,5.6){NH\Sb{2}}\A(26.4,15.8){N}\A(20.4,26.1){N}\A(7.7,13.8){N}\A(7.7,24.9){N}\A(7.7,29){H}}
\Cpd{c00119}{545.8}{1340.8}{634}{1380.3}{C00119}
\MolD{545.8}{1340.8}{\Bd{(6.5,18.5)--(22.4,18.5)--(26.7,13.1)--(33.5,15.2)--(39,10.9)--(44.6,15.5)--(42.8,22)--(35.5,22)--(33.5,15.2) (15.6,18.5)--(17.4,25.5) (35.5,22)--(29.7,27.2) (42.8,22)--(48.7,27.2) (44.6,15.5)--(51.7,12.9)--(81.2,12.9) (58.4,12.9)--(56.4,5.6) (72.4,12.9)--(70.4,5.6)}\Db{(15.6,18.5)--(15.6,11.5)}\Db{(58.4,12.9)--(58.4,19.9)}\Db{(72.4,12.9)--(72.4,19.9)}\A(6.5,18.5){HO}\A(15.6,18.5){P}\A(15.6,11.5){O}\A(17.4,25.5){OH}\A(22.4,18.5){O}\A(39,10.9){O}\A(29.7,27.2){HO}\A(48.7,27.2){OH}\A(51.7,12.9){O}\A(58.4,12.9){P}\A(58.4,19.9){O}\A(56.4,5.6){HO}\A(65.4,12.9){O}\A(72.4,12.9){P}\A(70.4,5.6){HO}\A(72.4,19.9){O}\A(81.2,12.9){OH}}
\Cpd{c00001j}{642.6}{1348}{668}{1371}{C00001}\mWater{642.6}{1348}
\Cpd{c00020}{543.2}{1430}{630.6}{1470}{C00020}\Mol{565.7}{1448.5}{6.5}{4.8}{\mATPn{1}}
\Cpd{c00013}{638.6}{1436}{681}{1467.5}{C00013}
\MolD{638.6}{1436}{\Bd{(6.7,13.3)--(35.9,13.3) (14.8,13.3)--(16.5,20) (27.7,13.3)--(29.6,20)}\Db{(14.8,13.3)--(14.8,5)}\Db{(27.7,13.3)--(27.7,5)}\A(6.7,13.3){HO}\A(14.8,13.3){P}\A(14.8,5){O}\A(16.5,20){OH}\A(21,13.3){O}\A(27.7,13.3){P}\A(27.7,5){O}\A(35.9,13.3){OH}\A(29.6,20){OH}}
\Cpd{c00001k}{508.4}{1439.6}{534}{1463}{C00001}\mWater{508.4}{1439.6}
\node[cbox,minimum width=25pt,minimum height=17pt] (blankA) at (702.5,1451.7) {};
\node[cbox,minimum width=25pt,minimum height=17pt] (blankB) at (606.5,1544.8) {};
\Cpd{c02188}{627.5}{1522.4}{692}{1567.5}{C02188}
\MolD{627.5}{1522.4}{\Bd{(17,5.1)--(17,12)--(24.3,15.6)--(23.4,22.8)--(17,26)--(10.4,22.2) (10.4,26)--(5.1,26) (23.4,22.8)--(29.5,26.6)--(36,22.8)--(42.5,26.6)--(49,22.8)--(56,26.6)}\Db{(17,12)--(11,15.6)}\Db{(17,26)--(17,32.7)}\A(17,5.1){R}\A(11,15.6){O}\A(24.3,15.6){NH}\A(17,32.7){O}\A(10.4,22.2){N}\A(10.4,26){H}\A(5.1,26){R}\A(56,26.6){NH\Sb{2}}}
\Cpd{c00002d}{700}{1523.4}{815}{1564}{C00002}\Mol{750.6}{1540}{7}{4.9}{\mATPn{3}}
% connectors
\E{c00660}{R00016}\E{c00031}{R00016}\E{c00031}{R07147}\E{c00006a}{R07147}
\draw[ed] (c00031) .. controls (540,90) and (460,96) .. (R00307);
\E{R00016}{c00103}\E{R07147}{c00005}
\draw[ed] (R07147) .. controls (747,118) and (760,135) .. (c00198);
\draw[ed] (R07147) .. controls (790,112) and (826,125) .. (c00080a);
\E{c00198}{R01519}
\draw[ed] (c00001a) .. controls (742,205) and (755,225) .. (R01519);
\draw[ed] (R00307) .. controls (300,118) and (250,130) .. (c00095);
\E{c00103}{R00289}\E{c00075}{R00289}
\draw[ed] (c00095) .. controls (222,215) and (190,232) .. (R00867);
\E{c00095}{R00760}\E{c00002a}{R00867}\E{c00002b}{R00760}
\draw[ed] (R00867) .. controls (105,265) and (85,275) .. (c06346);
\E{R00867}{c00003a}\E{R00760}{c00085}\E{R00760}{c00003b}\E{c00085}{R00761}
\draw[ed] (c00009a) .. controls (378,340) and (310,348) .. (R00761);
\E{R00289}{c00029}
\draw[ed] (R00289) .. controls (620,258) and (706,262) .. (706,330) -- (704,1200) .. controls (702,1330) and (695,1390) .. (c00013);
\E{c00029}{R00286}\E{c00003c}{R00286}
\draw[ed] (c00001b) .. controls (665,335) and (635,345) .. (R00286);
\draw[ed] (R00286) .. controls (560,373) and (540,383) .. (c00167);
\E{R00286}{c00004a}
\draw[ed] (R00286) .. controls (645,372) and (672,390) .. (c00080b);
\E{R01519}{c00257}
\draw[ed] (c00257) .. controls (808,340) and (830,350) .. (R01737);
\E{c00002c}{R01737}\E{R01737}{c00345}\E{R01737}{c00003d}\E{c00006b}{R01528}\E{c00345}{R01528}
\draw[ed] (R01528) .. controls (810,500) and (795,520) .. (c00199);
\draw[ed] (R01528) .. controls (835,510) and (830,530) .. (c00080c);
\draw[ed] (R01528) .. controls (845,510) and (850,530) .. (c00011b);
\E{R01528}{c00006c}
\E{c06346}{R01830}
\draw[ed] (c06346) .. controls (95,345) and (107,440) .. (R01827);
\E{R01830}{c00231}\E{R01830}{c00279}\E{c00118}{R01830}
\draw[ed] (R00761) .. controls (180,370) and (160,385) .. (c00279);
\draw[ed] (R00761) .. controls (200,380) and (190,395) .. (c00001c);
\E{R00761}{c00227}\E{c00279}{R01827}\E{R01827}{c00118}\E{R01827}{c05382}
\E{c00227}{R07226}\E{c00343}{R07226}
\draw[ed] (c00014a) .. controls (312,450) and (298,465) .. (R07226);
\draw[ed] (c00001d) .. controls (350,455) and (320,475) .. (R07226);
\draw[ed] (R07226) .. controls (256,505) and (245,520) .. (c00342);
\E{R07226}{c00009b}
\draw[ed] (R07226) .. controls (380,490) and (432,500) .. (c00037);
\E{c00167}{R01384}\E{R01384}{c00190}
\draw[ed] (R01384) .. controls (570,495) and (585,520) .. (c00011a);
\draw[ed] (c12215) .. controls (138,595) and (148,610) .. (R06590);
\E{c05382}{R06590}\E{R06590}{c12214}
\draw[ed] (R06590) .. controls (172,670) and (185,710) .. (c00117);
\draw[ed] (c00117) .. controls (310,765) and (337,790) .. (338,860) .. controls (339,1100) and (337,1290) .. (350,1335) .. controls (365,1375) and (440,1400) .. (R00182);
\E{c00644}{R02729}
\draw[ed] (c00037) .. controls (436,590) and (425,605) .. (R02729);
\E{R02729}{c02718}\E{R02729}{c00101}\E{c02718}{R04026}\E{R04026}{c06195}\E{R04026}{c00001e}
\E{c06195}{R04731}\E{c00014b}{R04731}\E{R04731}{c05239}\E{R04731}{c00001f}
\E{c05239}{R04732}\E{c00011c}{R04732}\E{R04732}{c05516}
\E{c00011d}{R04857}\E{c05516}{R04857}\E{c00014c}{R04857}
\E{R04857}{c00001g}\E{R04857}{c05515}\E{c05515}{R02141}\E{R02141}{c00001h}
\draw[ed] (R02141) .. controls (500,1102) and (560,1108) .. (c00385);
\E{c00004b}{R01768}\E{c00080d}{R01768}\E{c00385}{R01768}
\draw[ed] (R01768) .. controls (505,1212) and (482,1225) .. (c00001i);
\E{R01768}{c00262}\E{R01768}{c00003e}\E{c00014d}{R01244}\E{c00262}{R01244}\E{R01244}{c00147}
\draw[ed] (R01244) .. controls (590,1322) and (645,1332) .. (c00001j);
\E{c00147}{R00182}\E{c00147}{R00190}\E{c00119}{R00190}\E{R00182}{c00001k}\E{R00182}{c00020}
\E{R00190}{c00020}\E{R00190}{c00013}\E{c00020}{R03876}\E{c00013}{R03876}\E{blankA}{R03876}
\draw[ed] (R03876) .. controls (635,1512) and (622,1522) .. (blankB);
\E{R03876}{c02188}\E{R03876}{c00002d}
\end{tikzpicture}
\end{document}
